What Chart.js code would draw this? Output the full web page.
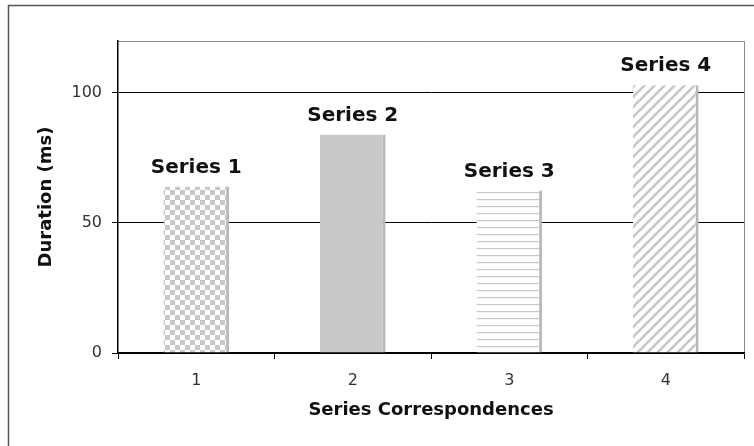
<!DOCTYPE html>
<html>
<head>
<meta charset="utf-8">
<script src="https://cdn.jsdelivr.net/npm/chart.js@4.4.1/dist/chart.umd.min.js"></script>
<style>
  html, body { margin: 0; padding: 0; background: #fff; }
  #wrap { width: 754px; height: 446px; }
</style>
</head>
<body>
<div id="wrap"><canvas id="chart" width="754" height="446"></canvas></div>
<script>
// values
const categories = ['1', '2', '3', '4']
const seriesNames = ['Series 1', 'Series 2', 'Series 3', 'Series 4']
const durations = [64, 84, 62.5, 103]
const yTicks = [0, 50, 100]

const GRAY = '#c8c8c8'
const SHADOW = '#b9b9b9'

function tile(w, h, draw) {
    const c = document.createElement('canvas')
    c.width = w
    c.height = h
    const g = c.getContext('2d')
    g.fillStyle = '#fff'
    g.fillRect(0, 0, w, h)
    draw(g)
    return c
}

function makePatterns(ctx) {
    const checker = tile(10, 10, g => {
        g.fillStyle = GRAY
        g.fillRect(0, 0, 5, 5)
        g.fillRect(5, 5, 5, 5)
    })
    const hlines = tile(7, 7, g => {
        g.fillStyle = GRAY
        g.fillRect(0, 3, 7, 1.2)
    })
    const diag = tile(10, 10, g => {
        g.strokeStyle = GRAY
        g.lineWidth = 2.6
        g.beginPath()
        g.moveTo(-2, 12); g.lineTo(12, -2)
        g.moveTo(-7, 7); g.lineTo(7, -7)
        g.moveTo(3, 17); g.lineTo(17, 3)
        g.stroke()
    })
    return [
        ctx.createPattern(checker, 'repeat'),
        GRAY,
        ctx.createPattern(hlines, 'repeat'),
        ctx.createPattern(diag, 'repeat'),
    ]
}

const canvas = document.getElementById('chart')
const fills = makePatterns(canvas.getContext('2d'))

const frame = {
    id: 'frame',
    beforeDraw(chart) {
        const { ctx, chartArea } = chart
        ctx.save()
        ctx.strokeStyle = '#555'
        ctx.lineWidth = 1.5
        ctx.strokeRect(8.5, 5.5, 900, 600)
        ctx.strokeStyle = '#8a8a8a'
        ctx.lineWidth = 1
        ctx.beginPath()
        ctx.moveTo(chartArea.left, chartArea.top + 0.5)
        ctx.lineTo(chartArea.right + 0.5, chartArea.top + 0.5)
        ctx.lineTo(chartArea.right + 0.5, chartArea.bottom)
        ctx.stroke()
        ctx.restore()
    },
}

const barLabels = {
    id: 'barLabels',
    afterDatasetsDraw(chart) {
        const { ctx } = chart
        const meta = chart.getDatasetMeta(0)
        ctx.save()
        ctx.font = 'bold 20px "DejaVu Sans"'
        ctx.fillStyle = '#111'
        ctx.textAlign = 'center'
        ctx.textBaseline = 'alphabetic'
        meta.data.forEach((bar, i) => {
            ctx.fillText(seriesNames[i], bar.x, bar.y - 14)
        })
        ctx.restore()
    },
}

new Chart(canvas, {
    type: 'bar',
    data: {
        labels: categories,
        datasets: [{
            label: 'Duration',
            data: durations,
            backgroundColor: fills,
            borderColor: SHADOW,
            borderWidth: { top: 0, right: 3, bottom: 0, left: 0 },
            borderSkipped: 'bottom',
            barPercentage: 0.42,
            categoryPercentage: 1,
        }]
    },
    options: {
        responsive: false,
        animation: false,
        layout: { padding: { top: 41, right: 10, bottom: 0, left: 0 } },
        plugins: {
            legend: { display: false },
            tooltip: { enabled: false },
        },
        scales: {
            x: {
                grid: {
                    offset: true,
                    drawOnChartArea: false,
                    color: '#000',
                    tickLength: 6,
                },
                border: { color: '#000', width: 1.5 },
                ticks: {
                    color: '#333',
                    font: { family: 'DejaVu Sans', size: 16 },
                    padding: 12,
                },
                title: {
                    display: true,
                    text: 'Series Correspondences',
                    color: '#111',
                    font: { family: 'DejaVu Sans', size: 18, weight: 'bold' },
                    padding: { top: 0, bottom: 25 },
                },
                afterFit(scale) { scale.height = 93 },
            },
            y: {
                min: 0,
                max: 120,
                grid: {
                    color: '#000',
                    lineWidth: 1,
                    tickLength: 6,
                },
                border: { color: '#000', width: 1.5 },
                ticks: {
                    stepSize: 50,
                    color: '#333',
                    font: { family: 'DejaVu Sans', size: 16 },
                    padding: 10,
                },
                afterBuildTicks(scale) {
                    scale.ticks = yTicks.map(v => ({ value: v }))
                },
                title: {
                    display: true,
                    text: 'Duration (ms)',
                    color: '#111',
                    font: { family: 'DejaVu Sans', size: 18, weight: 'bold' },
                    padding: { top: 36, bottom: 0 },
                },
                afterFit(scale) { scale.width = 118 },
            },
        },
    },
    plugins: [frame, barLabels],
})
</script>
</body>
</html>
